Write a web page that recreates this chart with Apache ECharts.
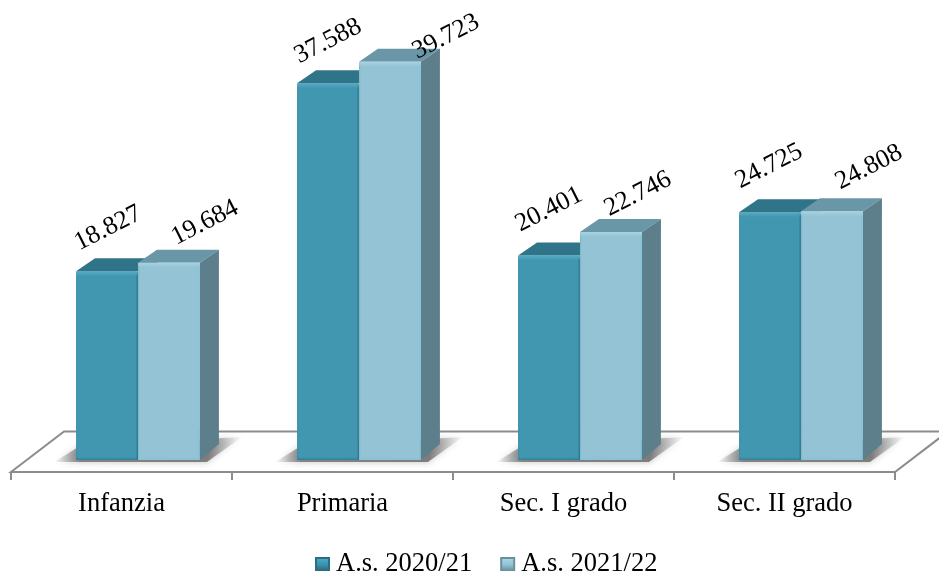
<!DOCTYPE html>
<html><head><meta charset="utf-8">
<style>html,body{margin:0;padding:0;background:#fff}#c{width:939px;height:571px}</style>
<script src="https://cdn.jsdelivr.net/npm/echarts@6/dist/echarts.min.js"></script>
</head><body><div id="c"></div>
<script>
const categories = ['Infanzia','Primaria','Sec. I grado','Sec. II grado'];
const seriesNames = ['A.s. 2020/21','A.s. 2021/22'];
const values2020 = [18.827,37.588,20.401,24.725];
const values2021 = [19.684,39.723,22.746,24.808];
const labels2020 = ['18.827','37.588','20.401','24.725'];
const labels2021 = ['19.684','39.723','22.746','24.808'];

// drawing style only
const FONT = '"Liberation Serif","Times New Roman",serif';
const DEPTH_X = 19, DEPTH_TOP = 13, DEPTH_BOT = 16;
const BAR_FRAC = 62/221.25, OFF_FRAC = [-45.5/221.25, 16.5/221.25];
const labelNudge2020 = [[1,-43],[0,-42],[0,-46],[-1,-46]];
const labelNudge2021 = [[36,-40],[56,-25],[27,-38],[37,-44]];
const palette = [
  {front:'#4197b0',edgeL:'#3a8ea6',edgeR:'#2d7389',hi:'#5aaac0',top:'#2f7488',side:'#2a6678'},
  {front:'#93c3d5',edgeL:'#7db5c9',edgeR:'#80c1d6',hi:'#a9d2e0',top:'#6a97a8',side:'#5d7f8c'}
];
const lin = (x,y,x2,y2,stops)=>({type:'linear',x,y,x2,y2,colorStops:stops.map(s=>({offset:s[0],color:s[1]}))});

function barRenderer(si, labels, nudges){
  return function(params, api){
    const i = api.value(0), v = api.value(1);
    const band = api.size([1,0])[0];
    const c = api.coord([i,0])[0], base = api.coord([i,0])[1], t = api.coord([i,v])[1];
    const w = band*BAR_FRAC, l = c + band*OFF_FRAC[si], r = l+w;
    const p = palette[si];
    const kids = [
      {type:'polygon',shape:{points:[[l,t],[l+DEPTH_X,t-DEPTH_TOP],[r+DEPTH_X,t-DEPTH_TOP],[r,t]]},style:{fill:p.top}},
      {type:'polygon',shape:{points:[[r,t],[r+DEPTH_X,t-DEPTH_TOP],[r+DEPTH_X,base-DEPTH_BOT],[r,base]]},style:{fill:p.side}},
      {type:'rect',shape:{x:l,y:t,width:w,height:base-t,r:[2,2,0,0]},style:{fill:lin(0,0,1,0,[[0,p.edgeL],[0.03,p.front],[0.96,p.front],[1,p.edgeR]])}},
      {type:'rect',shape:{x:l,y:t,width:w,height:5},style:{fill:lin(0,0,0,1,[[0,p.hi],[1,p.hi+'00']])}},
      {type:'rect',shape:{x:l,y:base-3,width:w,height:3},style:{fill:lin(0,0,0,1,[[0,p.edgeR+'00'],[1,p.edgeR+'aa']])}},
      {type:'text',x:c+band*OFF_FRAC[si]+w/2+nudges[i][0],y:t+nudges[i][1],rotation:27*Math.PI/180,z2:50,
        style:{text:labels[i],font:'26px '+FONT,fill:'#000',align:'center',verticalAlign:'middle'}}
    ];
    return {type:'group',children:kids};
  };
}

function floorRenderer(params, api){
  const i = api.value(0);
  const band = api.size([1,0])[0];
  const c = api.coord([i,0])[0], base = api.coord([i,0])[1];
  const cs = params.coordSys;
  const kids = [];
  if(params.dataIndex===0){
    const x0 = cs.x, x1 = cs.x+cs.width, front = base+12, back = base-28.5, dx = 53;
    kids.push({type:'polygon',shape:{points:[[x0,front],[x0+dx,back],[x1+dx,back],[x1,front]]},
      style:{fill:'#fff',stroke:'#8c8c8c',lineWidth:2}});
  }
  const l = c + band*OFF_FRAC[0], r = c + band*OFF_FRAC[1] + band*BAR_FRAC;
  kids.push({type:'polygon',shape:{points:[[l-22,base+2],[l+4,base-14],[r+42,base-23],[r+7,base+2]]},
    style:{fill:lin(0,0,1,0,[[0,'rgba(110,110,110,0)'],[0.14,'rgba(110,110,110,0.8)'],[0.82,'rgba(110,110,110,0.85)'],[1,'rgba(170,170,170,0.05)']]),
      shadowBlur:7,shadowColor:'rgba(150,150,150,0.7)'}});
  return {type:'group',silent:true,children:kids};
}

const chart = echarts.init(document.getElementById('c'),null,{renderer:'canvas'});
chart.setOption({
  animation:false,
  backgroundColor:'#fff',
  grid:{left:11,right:44,top:59,height:401},
  legend:{show:true,data:seriesNames,icon:'rect',left:310,top:546,itemWidth:13,itemHeight:13,itemGap:28,
    textStyle:{fontFamily:FONT,fontSize:26.5,color:'#000',padding:[0,0,0,2]}},
  xAxis:{type:'category',data:categories,offset:12,
    axisLine:{onZero:false,lineStyle:{color:'#8c8c8c',width:2}},
    axisTick:{show:true,length:8,lineStyle:{color:'#8c8c8c',width:2}},
    axisLabel:{fontFamily:FONT,fontSize:26.5,color:'#000',margin:19}},
  yAxis:{type:'value',min:0,max:40,show:false,splitLine:{show:false}},
  series:[
    {type:'custom',name:'floor',z:1,clip:false,renderItem:floorRenderer,encode:{x:0,y:1},
      data:categories.map((_,i)=>[i,0])},
    {type:'custom',name:seriesNames[0],z:3,clip:false,renderItem:barRenderer(0,labels2020,labelNudge2020),encode:{x:0,y:1},
      itemStyle:{color:lin(0,0,0,1,[[0,'#48b4d2'],[0.5,'#3b93ad'],[1,'#27606f']]),borderColor:'#2d6d80',borderWidth:1},
      data:values2020.map((v,i)=>[i,v])},
    {type:'custom',name:seriesNames[1],z:4,clip:false,renderItem:barRenderer(1,labels2021,labelNudge2021),encode:{x:0,y:1},
      itemStyle:{color:lin(0,0,0,1,[[0,'#a9dcec'],[0.5,'#93c3d5'],[1,'#5f8593']]),borderColor:'#6a8f9d',borderWidth:1},
      data:values2021.map((v,i)=>[i,v])}
  ]
});
</script></body></html>
